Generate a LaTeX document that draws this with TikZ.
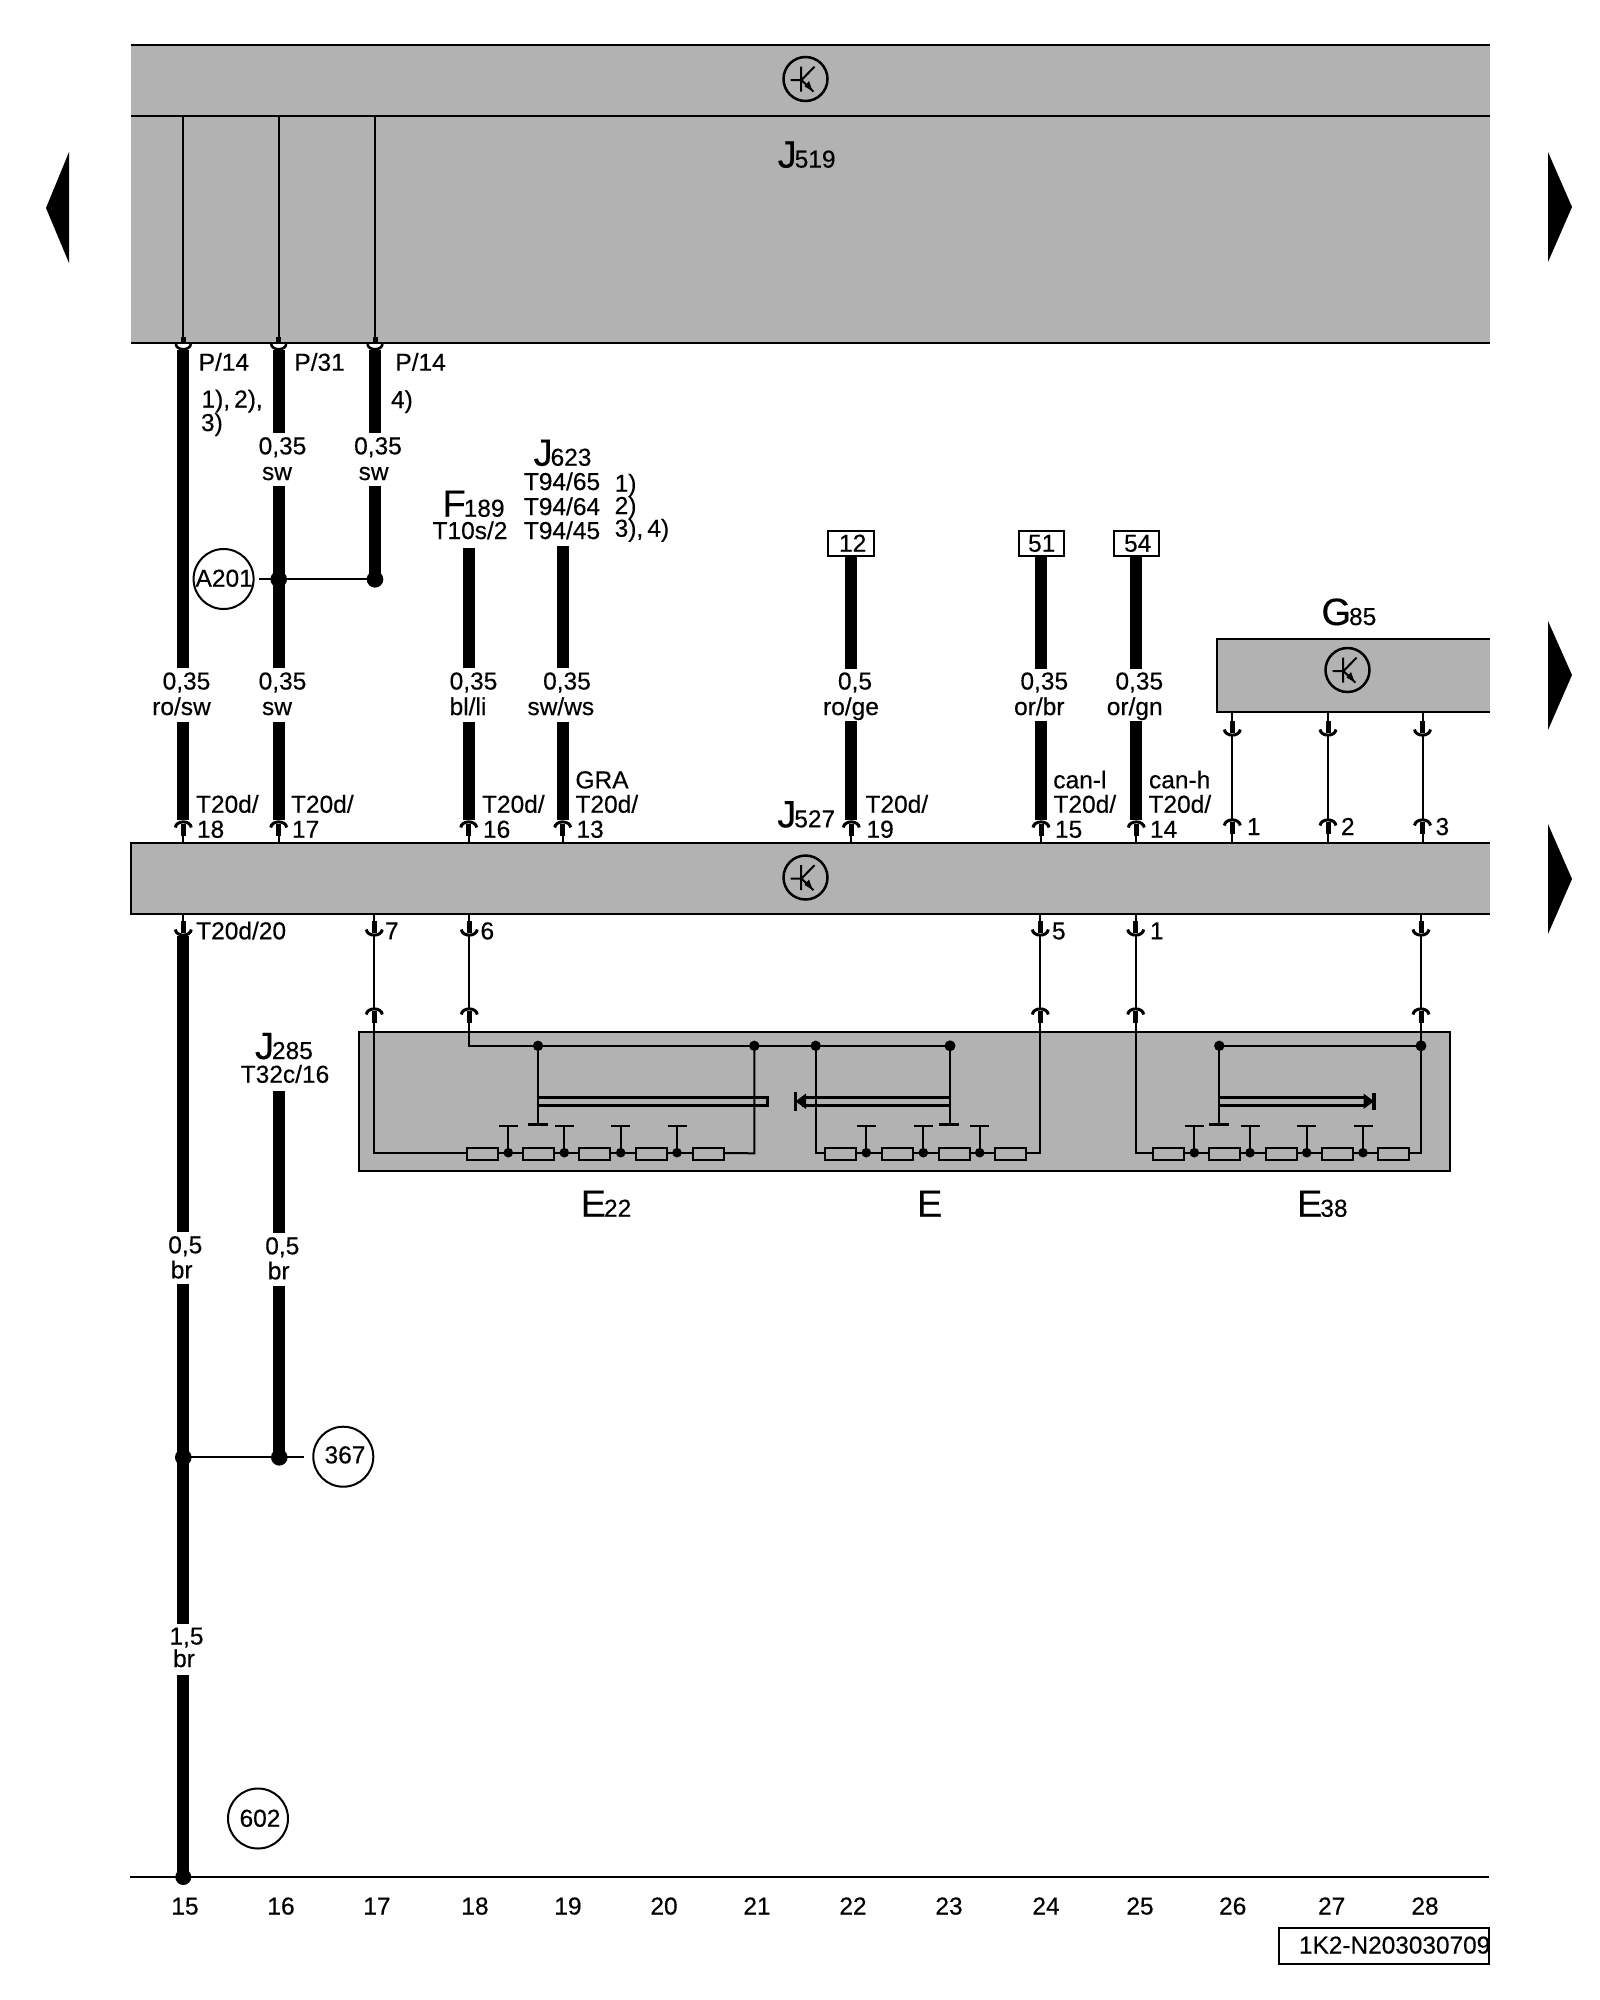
\documentclass[tikz,border=0pt]{standalone}
\usepackage{fontspec}
\setmainfont[FakeBold=0.35]{Liberation Sans}
\definecolor{panel}{HTML}{B2B2B2}
\newcommand\fsz{\fontsize{24.5pt}{24.5pt}\selectfont}
\newcommand\fbig{\fontsize{38pt}{38pt}\selectfont}
\tikzset{
  x=1pt,y=-1pt,
  every node/.style={inner sep=0pt,outer sep=0pt},
  heavy/.style={line width=12pt,line cap=butt},
  thin wire/.style={line width=2pt,line cap=butt},
  edge line/.style={line width=2pt},
  panelbox/.style={fill=panel,anchor=north west},
  txt/.style={font=\fsz,anchor=base},
  txtl/.style={font=\fsz,anchor=base west},
  bigl/.style={anchor=base west},
  ring/.style={circle,draw,line width=2pt,minimum size=60pt},
  tag/.style={draw,line width=2pt,anchor=north west},
  pics/plugup/.style={code={
    \draw[line width=3pt] (-8,7.5) .. controls (-7,0) and (7,0) .. (8,7.5);
    \draw[line width=5pt,line cap=butt] (0,4) -- (0,16);
  }},
  pics/plugdown/.style={code={
    \draw[line width=3pt] (-8,-7.5) .. controls (-7,0) and (7,0) .. (8,-7.5);
    \draw[line width=5pt,line cap=butt] (0,-4) -- (0,-16);
  }},
  pics/socket/.style={code={
    \fill[white] (-8,0) rectangle (8,6);
    \draw[line width=2.6pt] (-7.5,0) .. controls (-7,7) and (7,7) .. (7.5,0);
    \draw[line width=5pt,line cap=butt] (0,-7.3) -- (0,-1);
  }},
  pics/transistor/.style={code={
    \draw[line width=2.5pt] (0,0) circle (22);
    \draw[line width=2pt] (-15,1) -- (-4,1) (-4.3,-12.3) -- (-4.3,12.7) (-4,1) -- (9,-12.3) (-4,1) -- (8,12.7);
    \fill (7,12) -- (-1,7.5) -- (3.5,2) -- cycle;
  }},
  pics/resistor/.style={code={
    \draw[line width=2pt,fill=panel] (-15.5,-4.6) rectangle (15.5,7);
  }},
  pics/tstub/.style={code={
    \fill (0,0) circle (4.8);
    \draw[line width=2pt] (0,0) -- (0,-26.4) (-9.5,-26.4) -- (9.5,-26.4);
  }},
}
\newcommand\wire[4]{\coordinate (#1-a) at (#2,#3); \coordinate (#1-b) at (#2,#4); \draw[heavy] (#1-a) -- (#1-b);}
\newcommand\link[4]{\coordinate (#1-a) at (#2,#3); \coordinate (#1-b) at (#2,#4); \draw[thin wire] (#1-a) -- (#1-b);}
\newcommand\lab[4]{\node[txt] (#1) at (#2,#3) {#4};}
\newcommand\labl[4]{\node[txtl] (#1) at (#2,#3) {#4};}
\newcommand\comp[5]{\node[bigl] (#1) at (#2,#3) {\fbig #4\kern-2pt\fsz #5};}
\begin{document}
\begin{tikzpicture}
\useasboundingbox (0,0) rectangle (1600,2000);
\fill[white] (0,0) rectangle (1600,2000);

% panels
\node[panelbox,minimum width=1359pt,minimum height=298.3pt] (J519box) at (131,45) {};
\draw[edge line] (J519box.north west) -- (J519box.north east);
\draw[edge line] (J519box.south west) -- (J519box.south east);
\coordinate (midl) at (131,115.6); \coordinate (midr) at (1490,115.6);
\draw[edge line] (midl) -- (midr);

\node[panelbox,minimum width=273pt,minimum height=72.7pt] (G85box) at (1217,639) {};
\draw[edge line] (G85box.north east) -- (G85box.north west) -- (G85box.south west) -- (G85box.south east);

\node[panelbox,minimum width=1359pt,minimum height=71.3pt] (J527box) at (131,842.7) {};
\draw[edge line] (J527box.north east) -- (J527box.north west) -- (J527box.south west) -- (J527box.south east);

\node[panelbox,draw,line width=2pt,minimum width=1091pt,minimum height=138.4pt] (Ebox) at (359,1032.3) {};

% direction markers
\fill (46,208) -- (69,152) -- (69,263) -- cycle;
\fill (1572,207) -- (1548,152) -- (1548,262) -- cycle;
\fill (1572,675) -- (1548,621) -- (1548,730) -- cycle;
\fill (1572,879) -- (1548,824) -- (1548,934) -- cycle;

% symbols
\pic at (805.5,79) {transistor};
\pic at (805.5,877.5) {transistor};
\pic at (1347.5,670) {transistor};

% top panel thin lines
\link{ta}{183.3}{115.6}{337}
\link{tb}{278.7}{115.6}{337}
\link{tc}{375}{115.6}{337}

% heavy wires upper
\wire{w1a}{183.3}{348}{668}
\wire{w1b}{183.3}{721.7}{820}
\wire{w2a}{278.7}{348}{433.3}
\wire{w2b}{278.7}{485.7}{668}
\wire{w2c}{278.7}{721.7}{820}
\wire{w3a}{375}{348}{433.3}
\wire{w3b}{375}{485.7}{579.3}
\wire{w4a}{468.7}{547.7}{668}
\wire{w4b}{468.7}{721.7}{820}
\wire{w5a}{562.7}{546}{668}
\wire{w5b}{562.7}{721.7}{820}
\wire{w6a}{851.3}{555.7}{669}
\wire{w6b}{851.3}{721.3}{820}
\wire{w7a}{1041}{555.7}{669}
\wire{w7b}{1041}{721.3}{820}
\wire{w8a}{1136.3}{555.7}{669}
\wire{w8b}{1136.3}{721.3}{820}

\pic at (ta-b |- 0,344) {socket};
\pic at (tb-b |- 0,344) {socket};
\pic at (tc-b |- 0,344) {socket};

% A201 splice
\node[ring] (A201) at (223.6,579) {};
\node[txt] (A201t) at (224.2,586.7) {A201};
\coordinate (A201end) at (259,579.3);
\fill (w2b-a |- A201end) circle (8.3);
\fill (w3b-b) circle (8.3);
\draw[thin wire] (A201end) -- (w3b-b);

% upper plugs onto J527 panel
\foreach \px in {183.3,278.7,468.7,562.7,851.3,1041,1136.3}{
  \pic at (\px,820) {plugup};
  \draw[thin wire] (\px,834) -- (\px,843);
}

% G85 to J527
\foreach \px in {1232.3,1328,1422.5}{
  \draw[thin wire] (\px,712) -- (\px,722);
  \pic at (\px,737) {plugdown};
  \draw[thin wire] (\px,735) -- (\px,820);
  \pic at (\px,818) {plugup};
  \draw[thin wire] (\px,832) -- (\px,843);
}

% lower side of J527 panel
\foreach \px in {183.3,374.3,469.3,1040.3,1135.7,1421}{
  \draw[thin wire] (\px,914) -- (\px,923);
  \pic at (\px,937) {plugdown};
}
\wire{w1c}{183.3}{936}{1231.7}
\wire{w1d}{183.3}{1284.3}{1624}
\wire{w1e}{183.3}{1675}{1877}
\wire{w9a}{279.3}{1091}{1233.3}
\wire{w9b}{279.3}{1285.7}{1457.3}

\node[ring] (c367) at (343.3,1456.7) {};
\node[txt] (c367t) at (345,1463.3) {367};
\coordinate (s367) at (304,1457.3);
\fill (w1d-a |- s367) circle (8.3);
\fill (w9b-b) circle (8.3);
\draw[thin wire] (w1d-a |- s367) -- (s367);
\node[ring] (c602) at (258,1818.5) {};
\node[txt] (c602t) at (260,1826.7) {602};
\coordinate (gl) at (130,1877); \coordinate (gr) at (1489,1877);
\draw[edge line] (gl) -- (gr);
\fill (w1e-b) circle (8);

% thin wires to switch panel and plugs
\foreach \px in {374.3,469.3,1040.3,1135.7,1421}{
  \draw[thin wire] (\px,935) -- (\px,1008);
  \pic at (\px,1007) {plugup};
}
% E22 section
\coordinate (e1) at (374.3,1153);
\coordinate (e2) at (469.3,1045.8);
\coordinate (e3) at (950,1045.8);
\draw[thin wire] (374.3,1022) -- (e1) -- (467.3,1153);
\draw[thin wire] (469.3,1022) -- (e2) -- (e3);
\fill (538,1045.8) circle (5.2) (754.3,1045.8) circle (5.2) (815.7,1045.8) circle (5.2) (950,1045.8) circle (5.5);
\draw[line width=2pt] (538,1045.8) -- (538,1124.3);
\draw[line width=3.2pt] (528,1124.3) -- (548,1124.3);
\draw[line width=2.6pt] (538,1097.3) -- (767.3,1097.3) -- (767.3,1105.3) -- (538,1105.3);
\draw[thin wire] (754.3,1045.8) -- (754.3,1153.3) -- (723.3,1153);
\draw[thin wire] (467,1153) -- (723,1153);
\foreach \px in {482.5,538.5,594.5,651.5,708}{\pic at (\px,1153) {resistor};}
\foreach \px in {508.3,564.3,620.7,677}{\pic at (\px,1152.7) {tstub};}

% E section
\draw[line width=2pt] (949.7,1045.8) -- (949.7,1124.3);
\draw[line width=3.2pt] (939,1124.3) -- (958.7,1124.3);
\draw[line width=2.6pt] (949.7,1097.3) -- (802,1097.3) (949.7,1105.3) -- (802,1105.3);
\fill (795.5,1101.3) -- (806,1093.5) -- (806,1109) -- cycle;
\draw[line width=3.2pt] (795.5,1091.7) -- (795.5,1110.5);
\draw[thin wire] (816,1045.8) -- (816,1153) -- (825,1153);
\draw[thin wire] (1040.3,1022) -- (1040.3,1153) -- (1026,1153);
\draw[thin wire] (825,1153) -- (1026,1153);
\foreach \px in {840.3,897.5,954.5,1010.5}{\pic at (\px,1153) {resistor};}
\foreach \px in {866.3,923.3,979.7}{\pic at (\px,1152.7) {tstub};}

% E38 section
\draw[thin wire] (1135.7,1022) -- (1135.7,1153) -- (1153,1153);
\draw[thin wire] (1421,1022) -- (1421,1153) -- (1409,1153);
\draw[thin wire] (1153,1153) -- (1409,1153);
\fill (1421,1045.8) circle (5.5) (1219.3,1045.8) circle (5.2);
\draw[thin wire] (1421,1045.8) -- (1219.3,1045.8) -- (1219.3,1124.3);
\draw[line width=3.2pt] (1209,1124.3) -- (1229,1124.3);
\draw[line width=2.6pt] (1219.3,1097.3) -- (1367,1097.3) (1219.3,1105.3) -- (1367,1105.3);
\fill (1374,1101.3) -- (1363.5,1093.5) -- (1363.5,1109) -- cycle;
\draw[line width=3.2pt] (1374,1092.7) -- (1374,1110);
\foreach \px in {1168.5,1224.5,1281,1337.5,1393.5}{\pic at (\px,1153) {resistor};}
\foreach \px in {1194.3,1250,1306.7,1363}{\pic at (\px,1152.7) {tstub};}

% terminal boxes
\node[tag,minimum width=46pt,minimum height=25pt] (t12) at (827.7,530.7) {};
\node[tag,minimum width=45.5pt,minimum height=25pt] (t51) at (1018.7,530.7) {};
\node[tag,minimum width=45.5pt,minimum height=25pt] (t54) at (1113.7,530.7) {};
\lab{t12t}{852.7}{551.7}{12}
\lab{t51t}{1041.7}{551.7}{51}
\lab{t54t}{1137.7}{551.7}{54}

% component names
\comp{J519}{777.7}{167.6}{J}{519}
\comp{J527}{777.3}{827.3}{J}{527}
\comp{J623}{533.6}{465.7}{J}{623}
\comp{F189}{442.5}{516.7}{F}{189}
\comp{J285}{255}{1059}{J}{285}
\comp{G85}{1321.5}{625}{G}{85}
\comp{E22}{580.7}{1216.7}{E}{22}
\node[bigl] (Elbl) at (917,1216.7) {\fbig E};
\comp{E38}{1297}{1216.7}{E}{38}

% pin labels
\labl{p1}{198.7}{370.7}{P/14}
\labl{p2}{294.4}{370.7}{P/31}
\labl{p3}{395.4}{370.7}{P/14}
\labl{n1}{201.5}{407.5}{1),\,2),}
\labl{n2}{201}{431}{3)}
\labl{n3}{391}{408}{4)}

\lab{a2}{282.5}{454.3}{0,35}
\lab{a2b}{277}{480}{sw}
\lab{a3}{378}{454.3}{0,35}
\lab{a3b}{373.6}{480}{sw}

\lab{s1}{562}{490}{T94/65}
\lab{s2}{562}{515}{T94/64}
\lab{s3}{562}{539}{T94/45}
\labl{s1n}{614.7}{491.7}{1)}
\labl{s2n}{614.7}{514}{2)}
\labl{s3n}{614.7}{536.7}{3),\,4)}
\lab{f1}{470}{539}{T10s/2}

% gauge row
\lab{g1}{186.5}{689.5}{0,35}
\lab{g1b}{181.5}{715}{ro/sw}
\lab{g2}{282.5}{689.5}{0,35}
\lab{g2b}{277}{715}{sw}
\lab{g4}{473.5}{689.5}{0,35}
\lab{g4b}{468}{715}{bl/li}
\lab{g5}{567}{689.5}{0,35}
\lab{g5b}{560.8}{715}{sw/ws}
\lab{g6}{855}{689.5}{0,5}
\lab{g6b}{851}{715}{ro/ge}
\lab{g7}{1044.3}{689.5}{0,35}
\lab{g7b}{1039.3}{715}{or/br}
\lab{g8}{1139.3}{689.5}{0,35}
\lab{g8b}{1134.7}{715}{or/gn}

% connector labels
\labl{c1}{196}{812.7}{T20d/}
\labl{c1b}{197}{837.7}{18}
\labl{c2}{291}{812.7}{T20d/}
\labl{c2b}{292}{837.7}{17}
\labl{c4}{482}{812.7}{T20d/}
\labl{c4b}{483}{837.7}{16}
\labl{gra}{575.5}{788.3}{GRA}
\labl{c5}{575.5}{812.7}{T20d/}
\labl{c5b}{576.5}{837.7}{13}
\labl{c6}{865.5}{812.7}{T20d/}
\labl{c6b}{866.5}{837.7}{19}
\labl{cl}{1053.3}{788.3}{can-l}
\labl{c7}{1053.5}{812.7}{T20d/}
\labl{c7b}{1055}{837.7}{15}
\labl{ch}{1149}{788.3}{can-h}
\labl{c8}{1148.5}{812.7}{T20d/}
\labl{c8b}{1150}{837.7}{14}
\labl{q1}{1247}{835}{1}
\labl{q2}{1341}{835}{2}
\labl{q3}{1435.5}{835}{3}
\labl{d1}{196.2}{939.3}{T20d/20}
\labl{d2}{385}{939.3}{7}
\labl{d3}{480.5}{939.3}{6}
\labl{d4}{1052}{939.3}{5}
\labl{d5}{1150}{939.3}{1}
\lab{j285p}{285}{1082.7}{T32c/16}

% lower gauges
\lab{h1}{185.3}{1253.3}{0,5}
\lab{h1b}{181.7}{1278.3}{br}
\lab{h2}{282.3}{1254.3}{0,5}
\lab{h2b}{278.7}{1279.3}{br}
\lab{h3}{186.5}{1644.5}{1,5}
\lab{h3b}{184}{1667}{br}

% ruler
\lab{r15}{185}{1914.5}{15}
\lab{r16}{281}{1914.5}{16}
\lab{r17}{377}{1914.5}{17}
\lab{r18}{475}{1914.5}{18}
\lab{r19}{568}{1914.5}{19}
\lab{r20}{664}{1914.5}{20}
\lab{r21}{757}{1914.5}{21}
\lab{r22}{853}{1914.5}{22}
\lab{r23}{949}{1914.5}{23}
\lab{r24}{1046}{1914.5}{24}
\lab{r25}{1140}{1914.5}{25}
\lab{r26}{1232.7}{1914.5}{26}
\lab{r27}{1331.7}{1914.5}{27}
\lab{r28}{1425}{1914.5}{28}

\node[tag,minimum width=210pt,minimum height=35.7pt] (stamp) at (1279,1928) {};
\node[txtl] (stampt) at (1299,1953.5) {\fontsize{24.4pt}{24pt}\selectfont 1K2-N203030709};
\end{tikzpicture}
\end{document}
